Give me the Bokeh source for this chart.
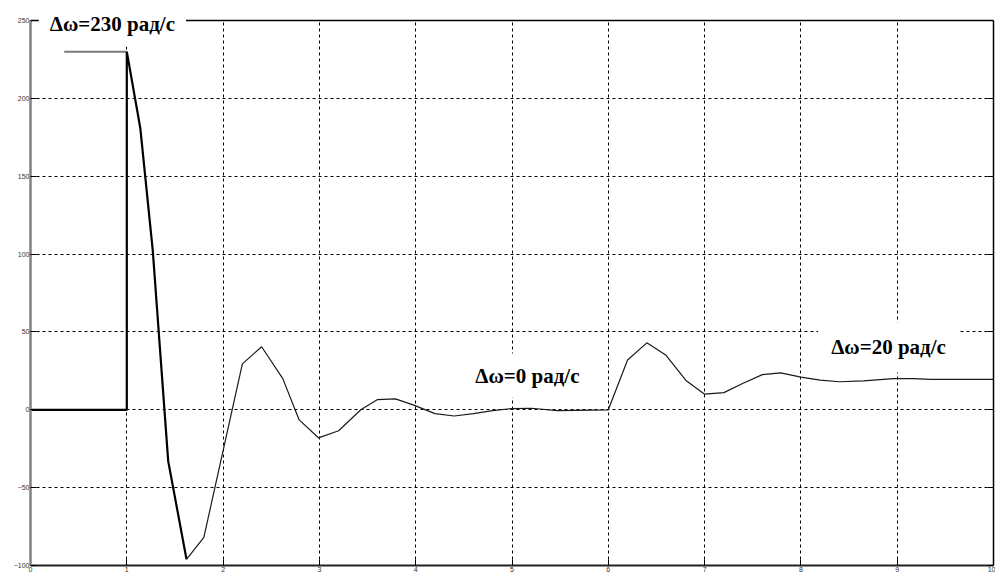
from bokeh.plotting import figure
from bokeh.models import Range1d, Label, LinearAxis, FixedTicker, Span, BoxAnnotation
from bokeh.embed import file_html
from bokeh.resources import INLINE

# response curve (time, s ; delta omega, rad/s)
t = [0.0, 1.0, 1.0, 1.14, 1.27, 1.43, 1.62, 1.80, 2.20, 2.40, 2.62, 2.79, 2.99,
     3.20, 3.43, 3.60, 3.79, 3.98, 4.20, 4.40, 4.60, 4.80, 5.00, 5.20, 5.47,
     6.00, 6.20, 6.40, 6.60, 6.81, 7.00, 7.20, 7.40, 7.60, 7.79, 8.00, 8.20,
     8.40, 8.65, 8.96, 9.17, 9.35, 10.0]
w = [0, 0, 230, 181, 102, -33, -96, -82, 29.5, 40.5, 20, -6.5, -18,
     -13.5, 0, 6.5, 7, 3, -2.5, -4, -2.5, -0.5, 0.8, 1, -0.5,
     0, 32, 43, 35, 18.6, 10, 11, 17, 22.6, 23.7, 21, 19,
     18, 18.6, 20, 20, 19.5, 19.5]
thick_end = 7  # first points drawn with heavier stroke

# initial level line
level_t = [0.35, 1.0]
level_w = [230, 230]

x_ticks = [0, 1, 2, 3, 4, 5, 6, 7, 8, 9, 10]
y_ticks = [-100, -50, 0, 50, 100, 150, 200, 250]
y_min, y_max = -100, 250

labels = [("Δω=230 рад/с", 0.85, 248, 11, "alphabetic"),
          ("Δω=0 рад/с", 5.16, 22, 10, "middle"),
          ("Δω=20 рад/с", 8.91, 40, 13, "middle")]

p = figure(width=995, height=574, output_backend="svg", toolbar_location=None,
           x_range=Range1d(0, 10), y_range=Range1d(y_min, 257.7),
           min_border_left=30, min_border_right=2, min_border_top=8, min_border_bottom=1)

p.outline_line_color = None

for ax in (p.xaxis[0], p.yaxis[0]):
    ax.major_label_text_font = "Liberation Sans"
    ax.major_label_text_font_size = "7px"
    ax.major_label_text_color = "#333333"
    ax.major_tick_in = 6
    ax.major_tick_out = 0
    ax.minor_tick_in = 0
    ax.minor_tick_out = 0
    ax.major_label_standoff = 1
p.xaxis[0].ticker = FixedTicker(ticks=x_ticks)
p.yaxis[0].ticker = FixedTicker(ticks=y_ticks)
p.yaxis[0].bounds = (y_min, y_max)
p.xaxis[0].axis_line_color = "#222222"
p.xaxis[0].axis_line_width = 2
p.yaxis[0].axis_line_color = "#808080"
p.yaxis[0].axis_line_width = 2.5
p.xaxis[0].major_tick_line_color = "black"
p.yaxis[0].major_tick_line_color = "black"

ra = LinearAxis(ticker=FixedTicker(ticks=y_ticks), bounds=(y_min, y_max),
                major_label_overrides={v: "" for v in y_ticks},
                major_label_text_font_size="7px", major_label_standoff=0,
                major_tick_in=6, major_tick_out=0, minor_tick_in=0, minor_tick_out=0,
                axis_line_color="black", axis_line_width=1.5)
p.add_layout(ra, "right")

for g, tk in ((p.xgrid[0], x_ticks), (p.ygrid[0], y_ticks)):
    g.ticker = FixedTicker(ticks=tk)
    g.grid_line_color = "black"
    g.grid_line_dash = "3 3"
    g.grid_line_width = 1

p.line(level_t, level_w, line_color="#7a7a7a", line_width=2)
p.line(t[:thick_end], w[:thick_end], line_color="black", line_width=2.2)
p.line(t[thick_end - 1:], w[thick_end - 1:], line_color="#1a1a1a", line_width=1.2)

# blank strip above the top border, then the border itself
p.add_layout(BoxAnnotation(bottom=y_max, fill_color="white", fill_alpha=1.0, line_color=None))
p.add_layout(Span(location=y_max, dimension="width", line_color="black", line_width=1.5))

for txt, lx, ly, pad, base in labels:
    p.add_layout(Label(x=lx, y=ly, text=txt, text_align="center", text_baseline=base,
                       text_font="Liberation Serif", text_font_style="bold",
                       text_font_size="21px", text_color="black",
                       background_fill_color="white", padding=pad))

open("out.html", "w").write(file_html(p, INLINE))
